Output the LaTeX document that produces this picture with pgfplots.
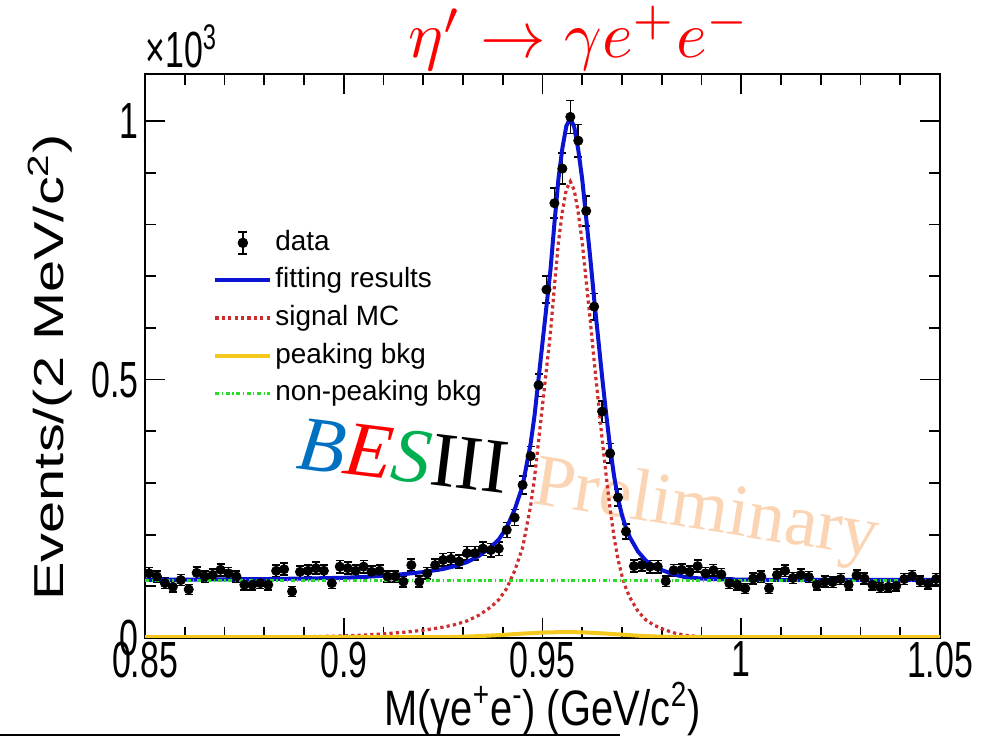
\documentclass[border=0pt]{standalone}
\usepackage{pgfplots}
\pgfplotsset{compat=1.18}
\usepackage{pgfplotstable}
\usepackage{fontspec}
\setmainfont{Liberation Sans}
\newfontfamily\timesfont{Liberation Serif}
\definecolor{fitblue}{RGB}{10,20,210}
\definecolor{sigred}{RGB}{205,45,45}
\definecolor{pkyellow}{RGB}{245,200,30}
\definecolor{bkgreen}{RGB}{40,220,40}
\definecolor{besblue}{RGB}{0,112,192}
\definecolor{besred}{RGB}{255,0,0}
\definecolor{besgreen}{RGB}{0,176,80}
\definecolor{prelim}{RGB}{251,212,180}

\pgfplotstableread{
x y
0.851 125
0.853 119
0.855 106
0.857 99
0.859 112
0.861 94
0.863 126
0.865 119
0.867 122
0.869 132
0.871 125
0.873 119
0.875 103
0.877 103
0.879 106
0.881 103
0.883 130
0.885 133
0.887 90
0.889 128
0.891 130
0.893 135
0.895 130
0.897 106
0.899 138
0.901 135
0.903 130
0.905 138
0.907 128
0.909 130
0.911 119
0.913 119
0.915 109
0.917 141
0.919 109
0.921 125
0.923 141
0.925 151
0.927 153
0.929 148
0.931 164
0.933 164
0.935 173
0.937 170
0.939 173
0.941 209
0.943 233
0.945 296
0.947 352
0.949 489
0.951 674
0.953 841
0.955 908
0.957 1008
0.959 962
0.961 826
0.963 641
0.965 438
0.967 357
0.969 272
0.971 206
0.973 139
0.975 141
0.977 138
0.979 138
0.981 110
0.983 131
0.985 132
0.987 128
0.989 139
0.991 125
0.993 131
0.995 123
0.997 106
0.999 103
1.001 96
1.003 115
1.005 119
1.007 96
1.009 122
1.011 130
1.013 116
1.015 122
1.017 118
1.019 103
1.021 109
1.023 108
1.025 114
1.027 103
1.029 121
1.031 115
1.033 103
1.035 98
1.037 99
1.039 101
1.041 114
1.043 120
1.045 110
1.047 105
1.049 114
}\datatable

\pgfplotstableread{
x y
0.850 112.5
0.860 113
0.870 113.5
0.880 114
0.890 115
0.900 116.5
0.905 118
0.910 120.5
0.915 123.5
0.920 127.5
0.925 133.5
0.928 139.1
0.931 146.8
0.934 158.7
0.937 175.8
0.939 190.6
0.941 213.5
0.943 248.5
0.945 294.5
0.947 375.3
0.948 430.7
0.949 501.1
0.950 571.5
0.951 641.7
0.952 711.9
0.953 802.1
0.954 887.3
0.955 947.5
0.956 990.4
0.957 1005.3
0.958 988.2
0.959 944.1
0.960 887
0.961 811.6
0.962 736.2
0.963 655.8
0.964 580.4
0.965 505
0.966 434.5
0.967 369
0.968 313.5
0.969 270
0.970 237.5
0.971 213
0.972 194.5
0.974 167.5
0.976 149.7
0.978 139.1
0.980 131.5
0.983 122.9
0.986 117.5
0.990 115
0.995 113.5
1.000 113
1.010 112.5
1.050 112.5
}\fittable

\pgfplotstableread{
x y
0.860 0.5
0.870 1
0.880 1.5
0.890 2.5
0.900 4
0.905 5.5
0.910 8
0.915 11
0.920 15
0.925 21
0.928 26
0.931 33
0.934 44
0.937 60
0.939 74
0.941 96
0.943 130
0.945 175
0.947 255
0.948 310
0.949 380
0.950 450
0.951 520
0.952 590
0.953 680
0.954 765
0.955 825
0.956 868
0.957 883
0.958 866
0.959 822
0.960 765
0.961 690
0.962 615
0.963 535
0.964 460
0.965 385
0.966 315
0.967 250
0.968 195
0.969 152
0.970 120
0.971 96
0.972 78
0.974 52
0.976 35
0.978 25
0.980 18
0.983 10
0.986 5
0.990 2.5
0.995 1
1.000 0.5
1.012 0
}\sigtable

\pgfplotstableread{
x y
0.850 1.5
0.925 1.5
0.930 2.5
0.935 4
0.940 6
0.945 8.5
0.950 10.5
0.955 11.5
0.960 11
0.965 9
0.970 6.5
0.975 4
0.980 2.5
0.985 1.5
1.050 1.5
}\pktable

\pgfplotstableread{
x y
0.850 111
1.050 111
}\bkgtable

\begin{document}
\begin{tikzpicture}
\path[use as bounding box] (0,0) rectangle (490.5bp,368.5bp);
\node[font=\timesfont\fontsize{37}{37}\selectfont, text=prelim, rotate=-9, anchor=base west, inner sep=0pt] at (265.5bp,117bp) {Preliminary};
\begin{axis}[
  at={(72.5bp,49.5bp)}, anchor=south west,
  scale only axis, width=397.5bp, height=282bp,
  xmin=0.85, xmax=1.05, ymin=0, ymax=1091,
  xtick={0.85,0.9,0.95,1,1.05},
  xticklabels={0.85,0.9,0.95,1,1.05},
  ytick={0,500,1000}, yticklabels={0,0.5,1},
  minor x tick num=4, minor y tick num=4,
  tick align=inside, xtick pos=both, ytick pos=both,
  xticklabel pos=lower, yticklabel pos=left,
  major tick length=10bp, minor tick length=5.5bp,
  every tick/.style={black, line width=0.9bp},
  axis line style={line width=1bp},
  /pgf/number format/assume math mode=true,
  ticklabel style={font=\fontsize{17}{17}\selectfont, yscale=1.5},
  xticklabel style={inner sep=1bp},
  yticklabel style={inner sep=3bp},
  xlabel={M(γe\textsuperscript{+}e\textsuperscript{-}) (GeV/c\textsuperscript{2})},
  ylabel={Events/(2 MeV/c\textsuperscript{2})},
  xlabel style={at={(axis description cs:0.5,-0.126)}, anchor=center, font=\fontsize{20}{20}\selectfont, yscale=1.25},
  ylabel style={at={(axis description cs:-0.1195,0.48)}, anchor=center, font=\fontsize{21}{21}\selectfont, xscale=1.38},
  legend style={draw=none, fill=none, at={(axis description cs:0.078,0.7376)}, anchor=north west,
    font=\fontsize{14}{14}\selectfont, row sep=2.3bp,
    nodes={inner sep=1.5bp, text height=10.5bp, text depth=3bp}},
  legend cell align=left,
  legend image code/.code={\draw[#1] (0bp,0bp) -- (27.5bp,0bp);},
]
\addplot[black, only marks, mark=*, mark size=2.3bp,
  legend image code/.code={\draw[black, line width=0.8bp] (13.75bp,-5.5bp) -- (13.75bp,5.5bp) (11.5bp,-5.5bp) -- (16bp,-5.5bp) (11.5bp,5.5bp) -- (16bp,5.5bp); \fill[black] (13.75bp,0bp) circle (2.4bp);},
  error bars/.cd, y dir=both, y explicit,
  error bar style={line width=0.8bp, black},
  error mark options={rotate=90, mark size=2bp, line width=0.8bp, black}]
  table[x=x, y=y, y error expr=sqrt(\thisrow{y})] {\datatable};
\addlegendentry{data}
\addplot[fitblue, line width=2bp, line join=round, legend image code/.code={\draw[fitblue, line width=2bp] (0bp,0bp) -- (27.5bp,0bp);}] table[x=x,y=y] {\fittable};
\addlegendentry{fitting results}
\addplot[sigred, line width=1.6bp, dash pattern=on 1.6bp off 1.6bp, legend image code/.code={\draw[sigred, line width=1.6bp, dash pattern=on 1.6bp off 1.6bp] (0bp,0bp) -- (27.5bp,0bp);}] table[x=x,y=y] {\sigtable};
\addlegendentry{signal MC}
\addplot[pkyellow, line width=2bp, legend image code/.code={\draw[pkyellow, line width=2bp] (0bp,0bp) -- (27.5bp,0bp);}] table[x=x,y=y] {\pktable};
\addlegendentry{peaking bkg}
\addplot[bkgreen, line width=1.7bp, dash pattern=on 2bp off 1.3bp on 0.6bp off 1.3bp, legend image code/.code={\draw[bkgreen, line width=1.7bp, dash pattern=on 2bp off 1.3bp on 0.6bp off 1.3bp] (0bp,0bp) -- (27.5bp,0bp);}] table[x=x,y=y] {\bkgtable};
\addlegendentry{non-peaking bkg}
\end{axis}
\node[font=\fontsize{17}{17}\selectfont, yscale=1.5, anchor=south west, inner sep=0pt] at (72.5bp,334bp) {×10\textsuperscript{3}};
\node[font=\timesfont\fontsize{39}{39}\selectfont, rotate=-7, anchor=base west, inner sep=0pt] at (147.5bp,134.5bp) {\textcolor{besblue}{\textit{B}}\textcolor{besred}{\textit{E}}\textcolor{besgreen}{\textit{S}}III};
\node[text=red, scale=3.3, anchor=base, inner sep=0pt] at (290bp,339.5bp) {$\eta'\rightarrow\gamma e^{+}e^{-}$};
\draw[line width=1bp] (0bp,0.8bp) -- (310bp,0.8bp);
\end{tikzpicture}
\end{document}
